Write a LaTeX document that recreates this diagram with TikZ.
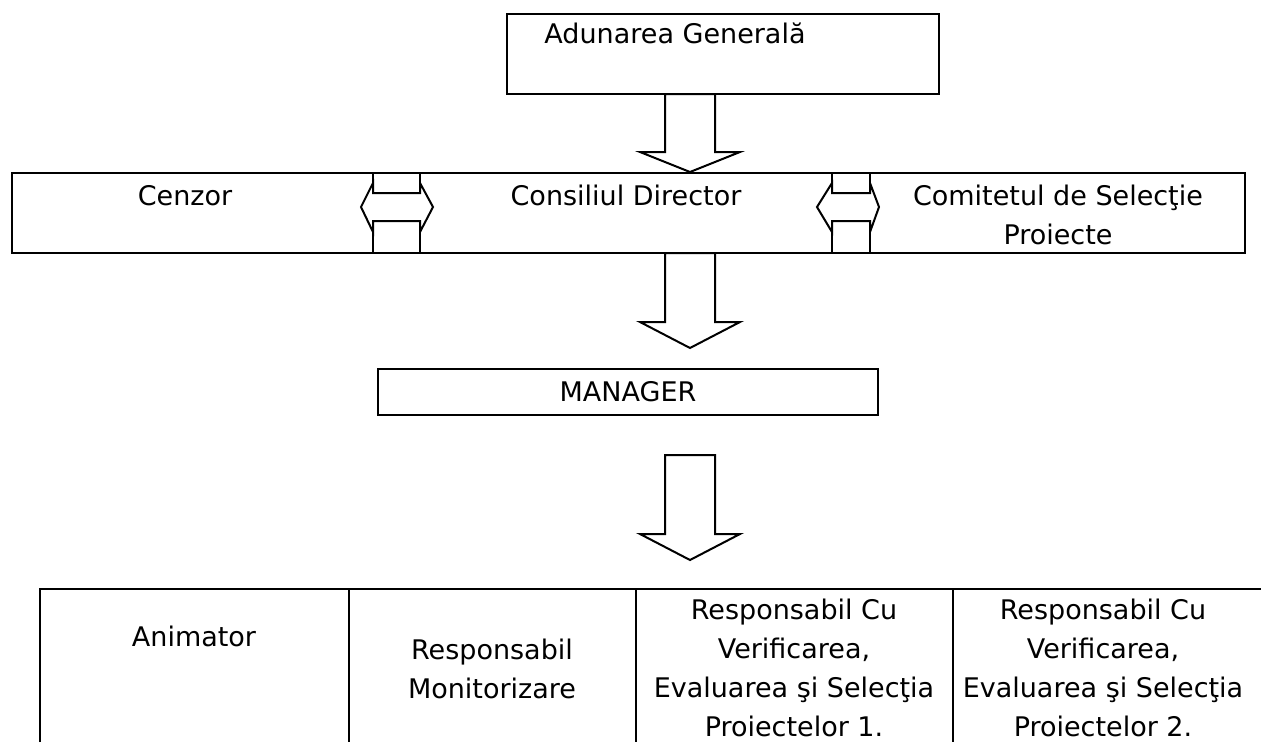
\documentclass[tikz,border=0pt]{standalone}
\usepackage{fontspec}
\setmainfont{DejaVu Sans}
\usepackage{tikz}

% block arrow pointing down: x centre, shaft top, head base, tip
\newcommand{\downblock}[4]{%
  \draw[blockarrow] (#1-25,#2) -- (#1+25,#2) -- (#1+25,#3) -- (#1+50,#3)
    -- (#1,#4) -- (#1-50,#3) -- (#1-25,#3) -- cycle;}
% block arrow both ways: left back, right back, left tip, right tip
\newcommand{\twoblock}[4]{%
  \draw[blockarrow] (#1,183) -- (#3,207) -- (#1,232) -- (#1,221) -- (#2,221)
    -- (#2,232) -- (#4,207) -- (#2,183) -- (#2,193) -- (#1,193) -- cycle;}

\begin{document}
\begin{tikzpicture}[x=1pt,y=-1pt]
  \tikzstyle{every node}=[font=\fontsize{27}{39}\selectfont, inner sep=0pt]
  \tikzstyle{box}=[draw, line width=2.8pt, minimum width=0pt]
  \tikzstyle{blockarrow}=[draw, fill=white, line width=2pt, line join=miter]
  \tikzstyle{lbl}=[anchor=base, align=center]
  \useasboundingbox (0,0) rectangle (1261,742);

  % top box
  \node (AG)[box, minimum width=432pt, minimum height=80pt] at (723,54) {};
  \node (AGtext)[lbl] at (675,43) {Adunarea Generală};
  \downblock{690}{94}{152}{172}

  % band with censor / board / committee
  \node (Band)[box, minimum width=1233pt, minimum height=80pt] at (628.5,213) {};
  \foreach \x in {373,420,832,870}
    \draw[line width=2.8pt] (\x,173) -- (\x,253);
  \node (Cenzor)[lbl] at (185,205) {Cenzor};
  \node (CD)[lbl] at (626,205) {Consiliul Director};
  \node (CSP)[lbl] at (1058,244) {Comitetul de Selecţie\\Proiecte};
  \twoblock{373}{420}{361}{433}
  \twoblock{832}{870}{817}{879}
  \downblock{690}{253}{322}{348}

  % manager
  \node (Mgr)[box, minimum width=500pt, minimum height=46pt] at (628,392) {};
  \node (MgrText)[lbl] at (628,401) {MANAGER};
  \downblock{690}{455}{534}{560}

  % staff table (open at bottom)
  \draw[line width=2.8pt] (40,742) -- (40,589) -- (1261,589);
  \foreach \x in {349,636,953}
    \draw[line width=2.8pt] (\x,589) -- (\x,742);
  \node (Anim)[lbl] at (194,646) {Animator};
  \node (RM)[lbl] at (492,698) {Responsabil\\Monitorizare};
  \node (RV1)[lbl] at (794,736) {Responsabil Cu\\Verificarea,\\Evaluarea şi Selecţia\\Proiectelor 1.};
  \node (RV2)[lbl] at (1103,736) {Responsabil Cu\\Verificarea,\\Evaluarea şi Selecţia\\Proiectelor 2.};
\end{tikzpicture}
\end{document}
